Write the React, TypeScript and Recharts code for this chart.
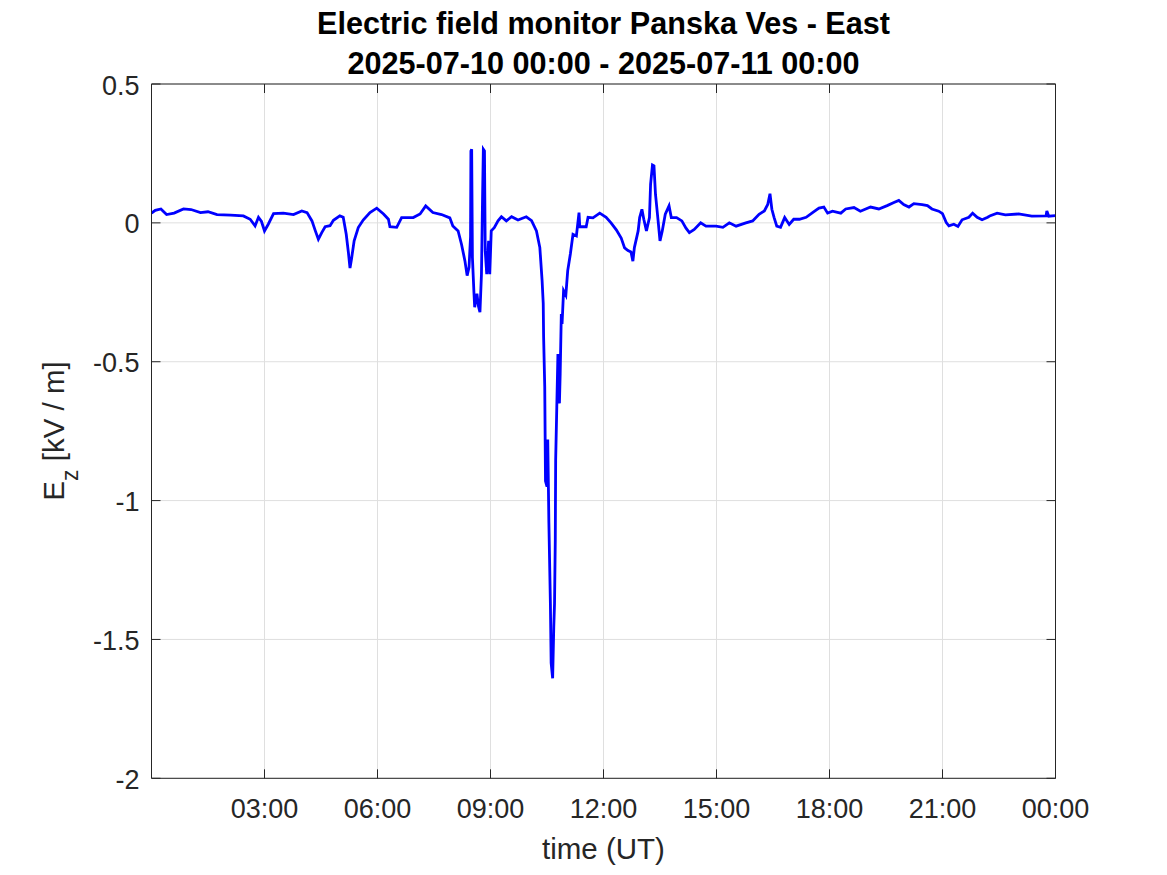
import React from 'react';
import { LineChart, Line, XAxis, YAxis, CartesianGrid } from 'recharts';

// hours since 2025-07-10 00:00 UT
const HOURS = [
    0.0, 0.1, 0.25, 0.4, 0.6, 0.85, 1.05, 1.3, 1.5, 1.74, 2.1, 2.44, 2.62, 2.75, 2.84, 2.92, 3.0, 3.1, 3.24, 3.5,
    3.77, 3.99, 4.13, 4.26, 4.35, 4.43, 4.52, 4.61, 4.74, 4.83, 5.0, 5.09, 5.17, 5.23, 5.27, 5.31, 5.38, 5.49, 5.62, 5.8,
    5.98, 6.16, 6.29, 6.33, 6.51, 6.64, 6.95, 7.13, 7.28, 7.47, 7.7, 7.92, 8.0, 8.14, 8.23, 8.32, 8.38, 8.43, 8.47, 8.48,
    8.5, 8.52, 8.56, 8.58, 8.64, 8.68, 8.72, 8.76, 8.79, 8.81, 8.84, 8.86, 8.9, 8.95, 8.98, 9.02, 9.1, 9.2, 9.29, 9.42,
    9.56, 9.73, 9.95, 10.09, 10.22, 10.31, 10.37, 10.4, 10.41, 10.44, 10.46, 10.5, 10.52, 10.55, 10.59, 10.61, 10.65, 10.68, 10.7, 10.72,
    10.73, 10.76, 10.79, 10.83, 10.85, 10.88, 10.9, 10.94, 11.0, 11.05, 11.12, 11.19, 11.28, 11.35, 11.37, 11.54, 11.59, 11.72, 11.9, 12.07,
    12.2, 12.34, 12.47, 12.56, 12.65, 12.73, 12.78, 12.82, 12.92, 12.96, 13.02, 13.07, 13.14, 13.22, 13.25, 13.3, 13.34, 13.38, 13.45, 13.5,
    13.56, 13.64, 13.74, 13.8, 13.94, 14.08, 14.19, 14.28, 14.41, 14.58, 14.72, 14.99, 15.17, 15.34, 15.52, 15.78, 15.96, 16.13, 16.27, 16.36,
    16.42, 16.47, 16.53, 16.6, 16.7, 16.81, 16.93, 17.05, 17.2, 17.38, 17.55, 17.72, 17.85, 17.95, 18.08, 18.3, 18.43, 18.65, 18.82, 19.09,
    19.31, 19.53, 19.71, 19.84, 19.97, 20.11, 20.24, 20.46, 20.6, 20.72, 20.9, 21.0, 21.1, 21.17, 21.3, 21.41, 21.52, 21.7, 21.8, 21.92,
    22.05, 22.2, 22.27, 22.45, 22.67, 23.02, 23.37, 23.75, 23.77, 23.82, 24.0,
];

// E_z in kV/m
const EZ = [
    0.035, 0.045, 0.05, 0.03, 0.035, 0.05, 0.048, 0.037, 0.04, 0.03, 0.028, 0.025, 0.013, -0.011, 0.02, 0.005, -0.029, -0.005, 0.033, 0.035,
    0.03, 0.043, 0.037, 0.007, -0.029, -0.059, -0.035, -0.014, -0.01, 0.009, 0.025, 0.02, -0.041, -0.11, -0.163, -0.13, -0.065, -0.017, 0.01, 0.037,
    0.053, 0.032, 0.013, -0.014, -0.016, 0.019, 0.019, 0.032, 0.061, 0.037, 0.03, 0.018, -0.011, -0.029, -0.077, -0.136, -0.19, -0.16, -0.05, 0.259,
    0.265, -0.125, -0.25, -0.304, -0.255, -0.3, -0.322, -0.185, 0.1, 0.265, 0.259, -0.1, -0.185, -0.065, -0.185, -0.029, -0.017, 0.007, 0.022, 0.007,
    0.022, 0.01, 0.022, 0.008, -0.029, -0.089, -0.208, -0.29, -0.41, -0.59, -0.93, -0.95, -0.78, -1.08, -1.37, -1.585, -1.64, -1.454, -1.37, -1.14,
    -0.855, -0.663, -0.472, -0.65, -0.543, -0.328, -0.364, -0.244, -0.26, -0.172, -0.112, -0.041, -0.047, 0.037, -0.014, -0.014, 0.02, 0.018, 0.035, 0.02,
    0.0, -0.025, -0.055, -0.09, -0.1, -0.105, -0.138, -0.089, -0.029, 0.019, 0.049, 0.013, -0.029, 0.019, 0.139, 0.208, 0.205, 0.103, 0.007, -0.065,
    -0.029, 0.031, 0.061, 0.019, 0.019, 0.007, -0.019, -0.035, -0.024, 0.0, -0.012, -0.012, -0.016, 0.0, -0.012, 0.0, 0.007, 0.031, 0.043, 0.066,
    0.105, 0.049, 0.019, -0.012, -0.016, 0.019, -0.006, 0.013, 0.013, 0.02, 0.037, 0.053, 0.057, 0.035, 0.042, 0.035, 0.05, 0.055, 0.042, 0.057,
    0.05, 0.062, 0.073, 0.081, 0.066, 0.057, 0.069, 0.066, 0.062, 0.05, 0.042, 0.033, 0.001, -0.011, -0.005, -0.013, 0.011, 0.02, 0.035, 0.02,
    0.011, 0.02, 0.026, 0.035, 0.029, 0.032, 0.024, 0.025, 0.043, 0.024, 0.026,
];

const X_TICKS = [3, 6, 9, 12, 15, 18, 21, 24];
const Y_TICKS = [-2, -1.5, -1, -0.5, 0, 0.5];

const data = HOURS.map((h, i) => ({ t: h, ez: EZ[i] }));

const FONT = '"Liberation Sans", Arial, Helvetica, sans-serif';
const INK = '#262626';
const TICK_LEN = 9;

const fmtHour = (h: number) => `${String(h % 24).padStart(2, '0')}:00`;

const BottomTick = ({ x, y, payload }: any) => (
    <g>
        <line x1={x} y1={y} x2={x} y2={y - TICK_LEN} stroke={INK} />
        <text x={x} y={y + 40} textAnchor="middle" fontSize={27} fontFamily={FONT} fill={INK}>
            {fmtHour(payload.value)}
        </text>
    </g>
);

const TopTick = ({ x, y }: any) => <line x1={x} y1={y} x2={x} y2={y + TICK_LEN} stroke={INK} />;

const LeftTick = ({ x, y, payload }: any) => (
    <g>
        <line x1={x} y1={y} x2={x + TICK_LEN} y2={y} stroke={INK} />
        <text x={x - 12} y={y + 10.5} textAnchor="end" fontSize={27} fontFamily={FONT} fill={INK}>
            {String(payload.value)}
        </text>
    </g>
);

const RightTick = ({ x, y }: any) => <line x1={x} y1={y} x2={x - TICK_LEN} y2={y} stroke={INK} />;

export default function App() {
    return (
        <div style={{ position: 'absolute', left: 0, top: 0, width: 1167, height: 875, background: '#fff' }}>
            <LineChart width={1167} height={875} data={data} margin={{ top: 83, right: 110.5, bottom: 46.7, left: 91.5 }}>
                <CartesianGrid stroke="#dfdfdf" />
                <XAxis
                    dataKey="t"
                    type="number"
                    domain={[0, 24]}
                    ticks={X_TICKS}
                    allowDataOverflow
                    height={50}
                    tickSize={0}
                    tickMargin={0}
                    tick={<BottomTick />}
                    tickLine={false}
                    axisLine={{ stroke: INK }}
                    interval={0}
                />
                <XAxis
                    xAxisId="top"
                    orientation="top"
                    dataKey="t"
                    type="number"
                    domain={[0, 24]}
                    ticks={X_TICKS}
                    allowDataOverflow
                    height={1}
                    tickSize={0}
                    tickMargin={0}
                    tick={<TopTick />}
                    tickLine={false}
                    axisLine={{ stroke: INK }}
                    interval={0}
                />
                <YAxis
                    type="number"
                    domain={[-2, 0.5]}
                    ticks={Y_TICKS}
                    allowDataOverflow
                    width={60}
                    tickSize={0}
                    tickMargin={0}
                    tick={<LeftTick />}
                    tickLine={false}
                    axisLine={{ stroke: INK }}
                    interval={0}
                />
                <YAxis
                    yAxisId="right"
                    orientation="right"
                    type="number"
                    domain={[-2, 0.5]}
                    ticks={Y_TICKS}
                    allowDataOverflow
                    width={1}
                    tickSize={0}
                    tickMargin={0}
                    tick={<RightTick />}
                    tickLine={false}
                    axisLine={{ stroke: INK }}
                    interval={0}
                />
                <Line
                    type="linear"
                    dataKey="ez"
                    stroke="#0000ff"
                    strokeWidth={2.8}
                    dot={false}
                    isAnimationActive={false}
                />
            </LineChart>
            <svg width={1167} height={875} style={{ position: 'absolute', left: 0, top: 0, pointerEvents: 'none' }}>
                <text x={603.5} y={34} textAnchor="middle" fontSize={30.6} fontWeight="bold" fontFamily={FONT} fill="#000">
                    Electric field monitor Panska Ves - East
                </text>
                <text x={603.5} y={73.5} textAnchor="middle" fontSize={30.6} fontWeight="bold" fontFamily={FONT} fill="#000">
                    2025-07-10 00:00 - 2025-07-11 00:00
                </text>
                <text x={603.5} y={859} textAnchor="middle" fontSize={29.5} fontFamily={FONT} fill={INK}>
                    time (UT)
                </text>
                <text transform="translate(63.5,431) rotate(-90)" textAnchor="middle" fontSize={29.5} fontFamily={FONT} fill={INK}>
                    E<tspan fontSize={23} dy={14}>z</tspan>
                    <tspan dy={-14}> [kV / m]</tspan>
                </text>
            </svg>
        </div>
    );
}
